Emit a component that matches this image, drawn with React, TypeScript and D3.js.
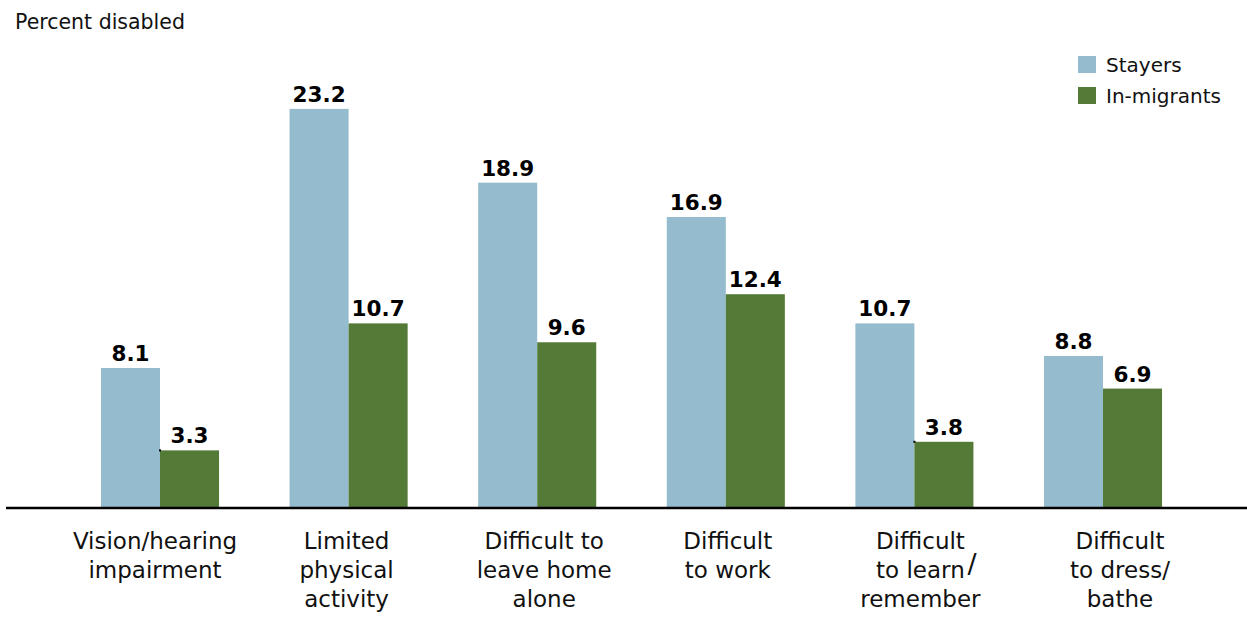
import React from "react";
import * as d3 from "d3";

const categories = [
  ["Vision/hearing", "impairment"],
  ["Limited", "physical", "activity"],
  ["Difficult to", "leave home", "alone"],
  ["Difficult", "to work"],
  ["Difficult", "to learn", "remember"],
  ["Difficult", "to dress/", "bathe"],
];
const seriesNames = ["Stayers", "In-migrants"];
const stayers = [8.1, 23.2, 18.9, 16.9, 10.7, 8.8];
const inMigrants = [3.3, 10.7, 9.6, 12.4, 3.8, 6.9];
const yTitle = "Percent disabled";

// layout constants
const W = 1247;
const H = 625;
const colors = ["#94bbce", "#537a37"];
const labelDx = [-5, -2, 7, 2, 6, 17];
const FONT = "'DejaVu Sans', Verdana, sans-serif";

export default function App() {
  const x = d3
    .scaleBand<number>()
    .domain(d3.range(categories.length))
    .range([65.7, 1197.3])
    .paddingInner(0.374)
    .paddingOuter(0.187);
  const xs = d3
    .scaleBand<number>()
    .domain([0, 1])
    .range([0, x.bandwidth()]);
  const y = d3.scaleLinear().domain([0, 25]).range([507, 78]);
  const series = [stayers, inMigrants];

  return (
    <div style={{ position: "absolute", left: 0, top: 0 }}>
      <svg width={W} height={H} style={{ display: "block" }} fontFamily={FONT}>
        <rect width={W} height={H} fill="#fff" />
        <text x={15} y={29} fontSize={20.5} fill="#111">
          {yTitle}
        </text>
        {series.map((vals, s) =>
          vals.map((v, i) => {
            const bx = (x(i) as number) + (xs(s) as number);
            const by = y(v);
            return (
              <g key={`${s}-${i}`}>
                <rect x={bx} y={by} width={xs.bandwidth()} height={y(0) - by} fill={colors[s]} />
                <text
                  x={bx + xs.bandwidth() / 2}
                  y={by - 7}
                  textAnchor="middle"
                  fontSize={21.5}
                  fontWeight="bold"
                  fill="#000"
                >
                  {v.toFixed(1)}
                </text>
              </g>
            );
          })
        )}
        {inMigrants.map((v, i) =>
          v < 5 ? (
            <rect
              key={`m${i}`}
              x={(x(i) as number) + (xs(1) as number) - 1}
              y={y(v) - 1}
              width={2}
              height={2}
              fill="#000"
            />
          ) : null
        )}
        <line x1={6} x2={W} y1={508} y2={508} stroke="#000" strokeWidth={2.5} />
        {categories.map((lines, i) => {
          const cx = (x(i) as number) + x.bandwidth() / 2 + labelDx[i];
          return (
            <g key={`c${i}`}>
              {lines.map((l, j) => (
                <text
                  key={j}
                  x={cx}
                  y={549 + j * 29}
                  textAnchor="middle"
                  fontSize={23}
                  fill="#111"
                >
                  {l}
                </text>
              ))}
              {i === 4 ? (
                <text x={cx + 47} y={573} fontSize={27} fill="#111">
                  /
                </text>
              ) : null}
            </g>
          );
        })}
        {seriesNames.map((n, s) => (
          <g key={n} transform={`translate(1078,${56 + s * 31})`}>
            <rect width={18} height={17} fill={colors[s]} />
            <text x={28} y={16} fontSize={20} fill="#111">
              {n}
            </text>
          </g>
        ))}
      </svg>
    </div>
  );
}
